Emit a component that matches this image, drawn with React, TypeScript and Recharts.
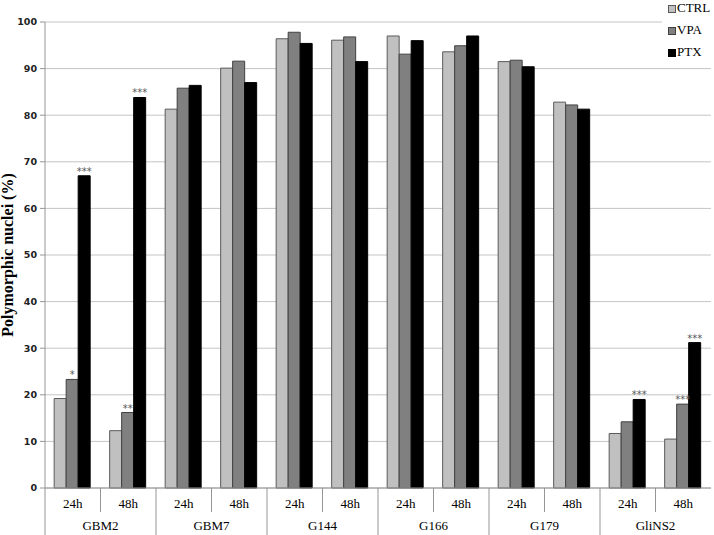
import React from 'react';
import { BarChart, Bar, XAxis, YAxis, CartesianGrid, LabelList } from 'recharts';

const groups = ['GBM2', 'GBM7', 'G144', 'G166', 'G179', 'GliNS2'];
const times = ['24h', '48h'];
const seriesNames = ['CTRL', 'VPA', 'PTX'];

// values per (group, time), in the order GBM2 24h, GBM2 48h, GBM7 24h ...
const ctrl = [19.2, 12.3, 81.3, 90.1, 96.4, 96.1, 97.0, 93.6, 91.5, 82.8, 11.7, 10.5];
const vpa = [23.3, 16.2, 85.8, 91.6, 97.8, 96.8, 93.1, 94.9, 91.8, 82.2, 14.2, 18.0];
const ptx = [67.0, 83.8, 86.4, 87.0, 95.4, 91.5, 96.0, 97.0, 90.4, 81.3, 19.0, 31.2];
const vpaSig = ['*', '**', '', '', '', '', '', '', '', '', '', '***'];
const ptxSig = ['***', '***', '', '', '', '', '', '', '', '', '***', '***'];
const yTicks = [0, 10, 20, 30, 40, 50, 60, 70, 80, 90, 100];

const data = groups.flatMap((g, gi) =>
  times.map((t, ti) => {
    const i = gi * times.length + ti;
    return { group: g, time: t, ctrl: ctrl[i], vpa: vpa[i], ptx: ptx[i], vpaSig: vpaSig[i], ptxSig: ptxSig[i] };
  })
);

const W = 714;
const H = 535;
const margin = { top: 22, right: 3, left: 0, bottom: 0 };
const Y_W = 45;
const BW = (W - margin.left - margin.right - Y_W) / data.length;
const AXIS = '#969696';
const SERIF = '"Liberation Serif", "Times New Roman", serif';

// two-row category axis: time on the first row, group name on the second
const TwoRowTick = (props: any) => {
  const { x, y, payload, index } = props;
  const left = x - BW / 2;
  const first = index % 2 === 0;
  return (
    <g>
      <line x1={left} x2={left} y1={y} y2={y + (first ? 47 : 24)} stroke={AXIS} />
      <text x={x} y={y + 20} textAnchor="middle" fontSize={13} fontFamily={SERIF} fill="#000">
        {payload.value}
      </text>
      {first && (
        <text x={x + BW / 2} y={y + 42} textAnchor="middle" fontSize={13} fontFamily={SERIF} fill="#000">
          {data[index].group}
        </text>
      )}
    </g>
  );
};

const Stars = (props: any) => {
  const { x, y, width, value } = props;
  if (!value) return null;
  return (
    <text x={x + width / 2} y={y - 1} textAnchor="middle" fontSize={10} fontFamily="DejaVu Sans" fill="#595959">
      {value}
    </text>
  );
};

const YLabel = (props: any) => {
  const { viewBox } = props;
  const cx = 12.5;
  const cy = viewBox.y + viewBox.height / 2;
  return (
    <text
      x={cx}
      y={cy}
      transform={`rotate(-90, ${cx}, ${cy})`}
      textAnchor="middle"
      fontSize={16}
      fontWeight="bold"
      fontFamily={SERIF}
      fill="#000"
    >
      Polymorphic nuclei (%)
    </text>
  );
};

const fills = ['#c0c0c0', '#808080', '#000000'];
const strokes = ['#5a5a5a', '#404040', '#000000'];

export default function App() {
  return (
    <div style={{ position: 'absolute', left: 0, top: 0, width: W, height: H, background: '#fff' }}>
      <BarChart width={W} height={H} data={data} margin={margin} barCategoryGap="16.5%" barGap={0}>
        <CartesianGrid vertical={false} stroke="#c4c4c4" />
        <YAxis
          width={Y_W}
          domain={[0, 100]}
          ticks={yTicks}
          interval={0}
          tickSize={5}
          tickMargin={3}
          stroke={AXIS}
          tick={{ fontSize: 9.5, fontFamily: 'DejaVu Sans', fontWeight: 'bold', fill: '#222' }}
          label={<YLabel />}
        />
        <XAxis
          dataKey="time"
          interval={0}
          height={47}
          tickLine={false}
          tickSize={0}
          tickMargin={0}
          stroke={AXIS}
          tick={<TwoRowTick />}
        />
        <Bar dataKey="ctrl" name="CTRL" fill={fills[0]} stroke={strokes[0]} isAnimationActive={false} />
        <Bar dataKey="vpa" name="VPA" fill={fills[1]} stroke={strokes[1]} isAnimationActive={false}>
          <LabelList dataKey="vpaSig" content={<Stars />} />
        </Bar>
        <Bar dataKey="ptx" name="PTX" fill={fills[2]} stroke={strokes[2]} isAnimationActive={false}>
          <LabelList dataKey="ptxSig" content={<Stars />} />
        </Bar>
      </BarChart>
      <div style={{ position: 'absolute', left: 662, top: 0, width: 52, height: 62, background: '#fff' }}>
        {seriesNames.map((n, i) => (
          <div key={n} style={{ position: 'absolute', left: 0, top: i * 22, height: 16, width: 52 }}>
            <div
              style={{
                position: 'absolute',
                left: 6,
                top: 5,
                width: 6,
                height: 6,
                background: fills[i],
                border: `1px solid ${strokes[i]}`,
              }}
            />
            <div
              style={{
                position: 'absolute',
                left: 15,
                top: 0,
                fontFamily: SERIF,
                fontSize: 13,
                lineHeight: '15px',
                whiteSpace: 'nowrap',
              }}
            >
              {n}
            </div>
          </div>
        ))}
      </div>
    </div>
  );
}
